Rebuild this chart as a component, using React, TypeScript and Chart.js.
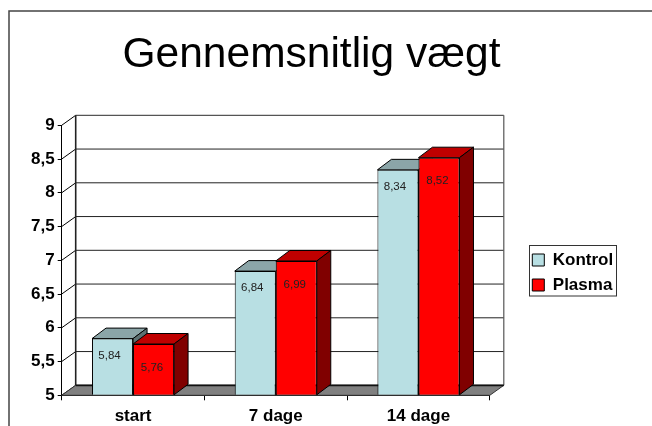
import React, { useEffect, useRef } from "react";
import { Chart, registerables } from "chart.js";

Chart.register(...registerables);

const categories = ["start", "7 dage", "14 dage"];
const kontrol = [5.84, 6.84, 8.34];
const plasma = [5.76, 6.99, 8.52];
const seriesNames = ["Kontrol", "Plasma"];
const titleText = "Gennemsnitlig vægt";
const yMin = 5;
const yMax = 9;

const FONT = "'Liberation Sans', Arial, sans-serif";
const DX = 14;
const DY = 10;
const shades = [
  { top: "#8BA5A8", side: "#5C7072", label: { dx: -3, dy: 17 } },
  { top: "#BF0000", side: "#800000", label: { dx: -1.5, dy: 23.5 } },
];

const poly = (ctx: any, pts: number[][], fill: string, stroke = "#000", lw = 1) => {
  ctx.beginPath();
  pts.forEach((p, i) => (i ? ctx.lineTo(p[0], p[1]) : ctx.moveTo(p[0], p[1])));
  ctx.closePath();
  ctx.fillStyle = fill;
  ctx.fill();
  ctx.lineWidth = lw;
  ctx.strokeStyle = stroke;
  ctx.stroke();
};
const line = (ctx: any, x1: number, y1: number, x2: number, y2: number, c: string, lw = 1) => {
  ctx.beginPath();
  ctx.moveTo(x1, y1);
  ctx.lineTo(x2, y2);
  ctx.strokeStyle = c;
  ctx.lineWidth = lw;
  ctx.stroke();
};

const plugin3d = {
  id: "plugin3d",
  beforeLayout(chart: any) {
    const l = chart.legend;
    if (!l.__wrapped) {
      const fit = l.fit;
      l.fit = function () {
        fit.call(this);
        this.width = 652 - 489.8;
      };
      l.__wrapped = true;
    }
  },
  afterLayout(chart: any) {
    const l = chart.legend;
    l.left = 524.3;
    l.right = 640;
    l.top = 243.5;
    l.bottom = 400;
    const t = chart.titleBlock;
    t.left = 0;
    t.right = 623;
  },
  beforeDatasetsDraw(chart: any) {
    const { ctx, chartArea: a, scales } = chart;
    const y = scales.y;
    ctx.save();
    // back wall grid
    y.ticks.forEach((t: any) => {
      const py = y.getPixelForValue(t.value);
      line(ctx, a.left, py, a.left + DX, py - DY, "#000");
      if (t.value > yMin && t.value < yMax) line(ctx, a.left + DX, py - DY, a.right + DX, py - DY, "#222");
    });
    line(ctx, a.left + DX, a.top - DY, a.right + DX, a.top - DY, "#555", 1.2);
    line(ctx, a.right + DX, a.top - DY, a.right + DX, a.bottom - DY, "#555", 1.2);
    line(ctx, a.left + DX, a.top - DY, a.left + DX, a.bottom - DY, "#222", 1.6);
    // floor
    poly(ctx, [
      [a.left, a.bottom],
      [a.left + DX, a.bottom - DY],
      [a.right + DX, a.bottom - DY],
      [a.right, a.bottom],
    ], "#808080", "#333", 1);
    line(ctx, a.left + DX, a.bottom - DY, a.right + DX, a.bottom - DY, "#111", 1.8);
    // bar extrusions
    chart.data.datasets.forEach((_: any, i: number) => {
      chart.getDatasetMeta(i).data.forEach((b: any) => {
        const x0 = b.x - b.width / 2;
        const x1 = b.x + b.width / 2;
        poly(ctx, [[x0, b.y], [x0 + DX, b.y - DY - 0.5], [x1 + DX, b.y - DY - 0.5], [x1, b.y]], shades[i].top);
        poly(ctx, [[x1, b.y], [x1 + DX, b.y - DY - 0.5], [x1 + DX, b.base - DY - 0.5], [x1, b.base]], shades[i].side);
      });
    });
    ctx.restore();
  },
  afterDatasetsDraw(chart: any) {
    const { ctx } = chart;
    ctx.save();
    ctx.font = `11.5px ${FONT}`;
    ctx.textAlign = "center";
    ctx.textBaseline = "middle";
    ctx.fillStyle = "#222";
    chart.data.datasets.forEach((ds: any, i: number) => {
      chart.getDatasetMeta(i).data.forEach((b: any, j: number) => {
        ctx.fillText(String(ds.data[j]).replace(".", ","), b.x + shades[i].label.dx, b.y + shades[i].label.dy);
      });
    });
    ctx.restore();
  },
  afterDraw(chart: any) {
    const { ctx } = chart;
    ctx.save();
    // outer frame: left and top edges only
    ctx.beginPath();
    ctx.moveTo(9, 426);
    ctx.lineTo(9, 11);
    ctx.lineTo(652, 11);
    ctx.strokeStyle = "#444";
    ctx.lineWidth = 1.5;
    ctx.stroke();
    // legend frame
    ctx.strokeStyle = "#333";
    ctx.lineWidth = 1;
    ctx.strokeRect(529.5, 245.5, 87, 50.5);
    ctx.restore();
  },
};

export default function App() {
  const ref = useRef<HTMLCanvasElement>(null);
  useEffect(() => {
    const chart = new Chart(ref.current as HTMLCanvasElement, {
      type: "bar",
      data: {
        labels: categories,
        datasets: [
          { label: seriesNames[0], data: kontrol, base: yMin, backgroundColor: "#B8DFE3", borderColor: "#000", borderWidth: 1 },
          { label: seriesNames[1], data: plasma, base: yMin, backgroundColor: "#FF0000", borderColor: "#000", borderWidth: 1 },
        ],
      },
      options: {
        responsive: false,
        animation: false,
        layout: { padding: 0 },
        datasets: { bar: { barPercentage: 1, categoryPercentage: 0.575 } },
        plugins: {
          tooltip: { enabled: false },
          title: {
            display: true,
            text: titleText,
            color: "#000",
            font: { family: FONT, size: 42.5, weight: "normal", lineHeight: 1.2 },
            padding: { top: 29.5, bottom: 44.8 },
          },
          legend: {
            display: true,
            position: "right",
            align: "start",
            labels: {
              color: "#000",
              boxWidth: 12,
              boxHeight: 12,
              padding: 8,
              font: { family: FONT, size: 17, weight: "bold" },
            },
          },
        },
        scales: {
          x: {
            afterFit(s: any) {
              s.height = 426 - 395.3;
            },
            border: { display: true, color: "#000" },
            grid: { drawOnChartArea: false, drawTicks: true, tickLength: 5, color: "#000", tickColor: "#000", offset: true },
            ticks: { color: "#000", padding: 6, maxRotation: 0, font: { family: FONT, size: 17, weight: "bold" } },
          },
          y: {
            min: yMin,
            max: yMax,
            afterFit(s: any) {
              s.width = 61.7;
            },
            border: { display: true, color: "#000" },
            grid: { drawOnChartArea: false, drawTicks: true, tickLength: 4, color: "#000", tickColor: "#000" },
            ticks: {
              stepSize: 0.5,
              color: "#000",
              padding: 3,
              font: { family: FONT, size: 17, weight: "bold" },
              callback: (v: any) => String(v).replace(".", ","),
            },
          },
        },
      } as any,
      plugins: [plugin3d],
    });
    return () => chart.destroy();
  }, []);
  return (
    <div style={{ position: "absolute", left: 0, top: 0, width: 652, height: 426, background: "#fff" }}>
      <canvas ref={ref} width={652} height={426} style={{ display: "block" }} />
    </div>
  );
}
